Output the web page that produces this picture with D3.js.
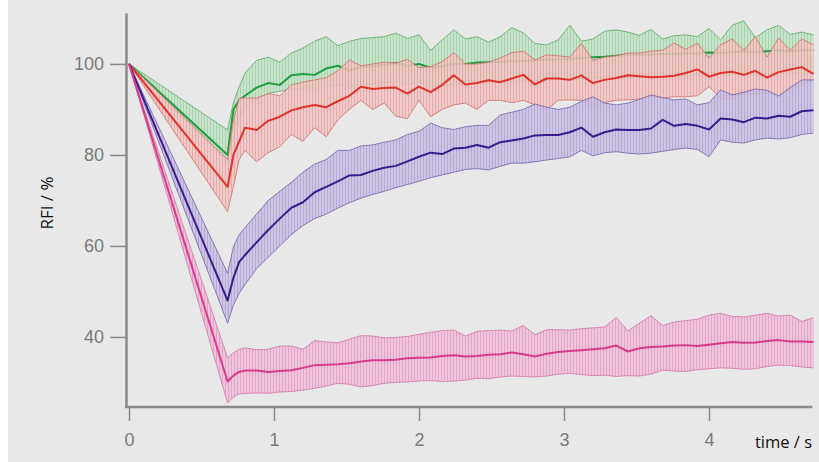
<!DOCTYPE html>
<html>
<head>
<meta charset="utf-8">
<script src="https://cdn.jsdelivr.net/npm/d3@7"></script>
<style>
  html, body { margin: 0; padding: 0; background: #ffffff; }
  svg { display: block; }
</style>
</head>
<body>
<div id="chart"></div>
<script>
// time axis (s)
const times = [0, 0.68, 0.72, 0.76, 0.80, 0.88, 0.96, 1.04, 1.12,
  1.20, 1.28, 1.36, 1.44, 1.52, 1.60, 1.68, 1.76, 1.84, 1.92,
  2.00, 2.08, 2.16, 2.24, 2.32, 2.40, 2.48, 2.56, 2.64, 2.72,
  2.80, 2.88, 2.96, 3.04, 3.12, 3.20, 3.28, 3.36, 3.44, 3.52,
  3.60, 3.68, 3.76, 3.84, 3.92, 4.00, 4.08, 4.16, 4.24, 4.32,
  4.40, 4.48, 4.56, 4.64, 4.72];

// RFI (%) - mean, upper and lower edge of the error band
const greenMean = [100, 80, 90, 92, 93, 94.8, 95.8, 95.4, 97.5,
  97.8, 97.6, 99, 99.6, 98.5, 99.4, 99.5, 99.8, 100.2, 99.6,
  100, 99.2, 99.5, 100, 100, 100.3, 100.4, 100.5, 100.6, 100.6,
  100.8, 101, 101, 101.1, 101.3, 101.5, 101.6, 101.8, 102, 102,
  102.1, 102.2, 102.2, 102.3, 102.3, 102.5, 102.4, 102.6, 102.8, 102.6,
  102.8, 103, 102.8, 103, 103];
const greenHi = [100, 85.5, 91.5, 95, 98, 100.8, 101.5, 100.4, 102.4,
  103.5, 105, 106, 104, 105, 105.6, 105.8, 106, 106.8, 105.6,
  106.4, 103, 105.3, 107.5, 105.5, 106, 104.8, 106, 108, 106.8,
  104.5, 104.2, 105.3, 108.5, 105, 105.5, 107.2, 107.5, 107, 106.3,
  107.6, 105.5, 106.2, 106.4, 106, 107.8, 105.3, 108.5, 109.5, 105.8,
  107.5, 108.5, 106.5, 107, 106.4];
const greenLo = [100, 78.5, 84, 88, 90.5, 92, 93.5, 94, 94.5,
  94.5, 94, 95, 95.5, 95, 95.5, 95.5, 96, 96, 95.5,
  96, 95, 95, 95.5, 95.5, 96, 96, 96, 96, 96.2,
  96.4, 96.5, 96.6, 96.6, 96.8, 97, 96.8, 97, 97, 97.2,
  97.3, 97.2, 97.4, 97.4, 97.5, 97.6, 97.5, 97.6, 97.8, 97.6,
  97.8, 98, 97.8, 98, 98];

const redMean = [100, 73, 80, 83, 86, 85.5, 87.5, 88.4, 89.8,
  90.5, 91, 90.5, 91.8, 93, 95, 94.5, 94.7, 94.8, 93.5,
  95, 93.8, 95.4, 97.5, 95.5, 95.8, 96.4, 96, 96.8, 97.6,
  95.5, 96.8, 96.8, 96.5, 97.5, 95.8, 96.5, 96.9, 97.5, 97.3,
  97.1, 97.2, 97.4, 98, 98.8, 97.2, 98, 98.3, 97.6, 98.5,
  97, 98.2, 98.8, 99.3, 97.8];
const redHi = [100, 79, 87.5, 92.5, 92.5, 92.5, 93.5, 93, 95.4,
  96, 96.5, 97, 98.5, 100.9, 99.6, 100, 100.4, 100.2, 101,
  99.2, 99.4, 100.5, 102.5, 100, 100, 100.4, 101.3, 102.5, 102.8,
  100.9, 102, 101.8, 101.5, 104.5, 100.8, 101.5, 101.8, 102.4, 102.4,
  102.8, 103, 104.6, 103.2, 104.6, 101.3, 104.2, 105.5, 103, 106,
  101.5, 105.7, 103, 105.5, 104.2];
const redLo = [100, 67.5, 73, 79, 81, 78.5, 80.5, 81.8, 84.5,
  83, 86, 84, 87.7, 90, 92, 90, 91.4, 88.5, 88,
  92, 88.4, 90, 91, 91.4, 90, 92, 92, 91.5, 92,
  91, 89.9, 92, 92.1, 92, 89.9, 91.5, 92, 92.1, 92.3,
  92.8, 92.5, 92.8, 92.8, 93, 95, 92.5, 92.2, 93.6, 93.4,
  93.6, 92.8, 94.3, 95.5, 96.5];

const purpleMean = [100, 48, 53, 56.5, 58, 60.8, 63.5, 66, 68.4,
  69.6, 71.8, 73, 74.2, 75.5, 75.6, 76.5, 77.2, 77.6, 78.6,
  79.6, 80.5, 80.2, 81.4, 81.6, 82.2, 81.6, 82.8, 83.2, 83.6,
  84.3, 84.4, 84.4, 85, 86, 84, 85, 85.6, 85.5, 85.5,
  85.8, 87.7, 86.4, 86.8, 86.4, 85.6, 88, 87.8, 87.2, 88.2,
  88, 88.6, 88.4, 89.6, 89.8];
const purpleHi = [100, 54, 59.8, 62.5, 64, 67, 70, 72, 74,
  76.2, 78, 79, 81, 81, 82, 82.2, 82.8, 83.3, 84.5,
  85.2, 87, 86, 85.6, 86.2, 86.5, 86.5, 88.8, 89.4, 90,
  91.2, 90.5, 90, 90.5, 91.8, 92.8, 91.4, 91, 91.4, 92.2,
  93.2, 92.6, 92.1, 92.3, 91, 91.5, 94.3, 93.2, 93.8, 94.5,
  94.2, 93, 94.8, 96.5, 96.5];
const purpleLo = [100, 43, 47, 49.6, 51.5, 55, 57.5, 60, 62.5,
  64.5, 66, 67, 68.3, 69.5, 70.5, 71.3, 72, 72.8, 73.5,
  74.2, 75, 75.6, 76.2, 76.8, 77, 76.7, 77.5, 78.2, 78.2,
  78.5, 78.9, 79.2, 79.6, 81, 79.8, 80.5, 80.7, 80.4, 80.2,
  80.4, 80.8, 81.2, 81.5, 81.2, 79.6, 83.3, 82.8, 82.6, 83.3,
  83.7, 83.5, 83.8, 84.5, 84.8];

const magentaMean = [100, 30.2, 31.5, 32.3, 32.6, 32.6, 32.3, 32.5, 32.7,
  33.2, 33.8, 33.9, 34, 34.2, 34.6, 34.9, 34.9, 35, 35.3,
  35.4, 35.5, 35.8, 36, 35.7, 35.8, 36.1, 36.2, 36.6, 36.2,
  35.7, 36.3, 36.7, 36.9, 37.1, 37.3, 37.5, 38.1, 36.8, 37.5,
  37.8, 37.9, 38.1, 38.2, 38, 38.3, 38.6, 38.9, 38.7, 38.8,
  39.1, 39.3, 39, 39, 38.9];
const magentaHi = [100, 35.4, 36.5, 37.3, 37.6, 37.2, 37.3, 38, 38,
  37.3, 39.2, 38.9, 38.7, 39.5, 40.3, 40.2, 39.8, 39.9, 40.1,
  40.6, 41, 41.4, 41.5, 40.2, 41.2, 41.4, 41.5, 41.3, 42.5,
  40.5, 41.6, 41.6, 41.5, 41.8, 42, 42.2, 44.3, 41.3, 43,
  44.7, 42.5, 43.3, 43.6, 43.9, 44.8, 45.2, 44.5, 44.4, 44.8,
  45.2, 44.6, 44.8, 43.4, 44.2];
const magentaLo = [100, 25.5, 26.8, 27.5, 27.6, 27.7, 27.6, 27.9, 28,
  28.3, 28.7, 29.2, 29.8, 29.6, 29, 29.3, 29.8, 30, 30.1,
  30.3, 30.4, 30.2, 30.3, 30.5, 30.9, 30.8, 31.2, 31.4, 31.3,
  31.2, 31.4, 31.8, 32, 31.7, 31.5, 31.6, 31.3, 31.5, 31.4,
  31.8, 32.7, 32.5, 32.4, 32.8, 33, 33.2, 33.1, 32.9, 33,
  33.5, 33.8, 33.7, 33.4, 33.2];

const xTicks = [0, 1, 2, 3, 4];
const yTicks = [40, 60, 80, 100];

const width = 819, height = 462;

const svg = d3.select("#chart").append("svg")
  .attr("width", width)
  .attr("height", height);

// grey panel
svg.append("rect")
  .attr("x", 8).attr("y", 0)
  .attr("width", width - 8).attr("height", height)
  .attr("fill", "#e8e8e8");

const x = d3.scaleLinear().domain([0, 4.72]).range([129, 813.4]);
const y = d3.scaleLinear().domain([24.6, 111.2]).range([407, 13]);

const series = [
  { id: "green", mean: greenMean, hi: greenHi, lo: greenLo, line: "#1f9e40", fill: "#c2e4c6", hatch: "#9fd0a6", edge: "#5fa86c" },
  { id: "red", mean: redMean, hi: redHi, lo: redLo, line: "#e2322c", fill: "#f1c6c4", hatch: "#e3a4a2", edge: "#cf6e6a" },
  { id: "purple", mean: purpleMean, hi: purpleHi, lo: purpleLo, line: "#3a1c8c", fill: "#c9c0e2", hatch: "#aea0d2", edge: "#7462a8" },
  { id: "magenta", mean: magentaMean, hi: magentaHi, lo: magentaLo, line: "#d93a8a", fill: "#f0c0da", hatch: "#e39cc2", edge: "#cf77a6" }
];

const defs = svg.append("defs");
series.forEach(s => {
  const p = defs.append("pattern")
    .attr("id", "hatch-" + s.id)
    .attr("patternUnits", "userSpaceOnUse")
    .attr("width", 3).attr("height", 10);
  p.append("rect").attr("width", 3).attr("height", 10)
    .attr("fill", s.fill);
  p.append("line")
    .attr("x1", 0.5).attr("x2", 0.5).attr("y1", 0).attr("y2", 10)
    .attr("stroke", s.hatch).attr("stroke-width", 1);
});

series.forEach(s => {
  const rows = times.map((t, i) => ({ t: t, m: s.mean[i], hi: s.hi[i], lo: s.lo[i] }));
  const g = svg.append("g").attr("class", "series-" + s.id);

  const area = d3.area()
    .x(d => x(d.t))
    .y0(d => y(d.lo))
    .y1(d => y(d.hi));

  g.append("path")
    .datum(rows)
    .attr("d", area)
    .attr("fill", "url(#hatch-" + s.id + ")")
    .attr("fill-opacity", 0.88);

  ["hi", "lo"].forEach(k => {
    g.append("path")
      .datum(rows)
      .attr("d", d3.line().x(d => x(d.t)).y(d => y(d[k])))
      .attr("fill", "none")
      .attr("stroke", s.edge)
      .attr("stroke-opacity", 0.8)
      .attr("stroke-width", 1);
  });

  g.append("path")
    .datum(rows)
    .attr("d", d3.line().x(d => x(d.t)).y(d => y(d.m)))
    .attr("fill", "none")
    .attr("stroke", s.line)
    .attr("stroke-width", 2)
    .attr("stroke-linejoin", "round");
});

// axes
const axisColor = "#8a8a8a";
const labelColor = "#7a7a7a";

const yAxis = svg.append("g")
  .attr("transform", `translate(${x(0) - 3},0)`)
  .call(d3.axisLeft(y).tickValues(yTicks).tickSize(16).tickSizeOuter(0).tickPadding(6).tickFormat(d3.format("d")));
yAxis.select(".domain").attr("stroke", axisColor).attr("stroke-width", 2.5);
yAxis.selectAll(".tick line").attr("stroke", axisColor).attr("stroke-width", 1.5);
yAxis.selectAll(".tick text")
  .attr("fill", labelColor)
  .style("font-family", "'Liberation Sans', Arial, sans-serif")
  .style("font-size", "18px");

const xAxis = svg.append("g")
  .attr("transform", `translate(0,${y(24.6)})`)
  .call(d3.axisBottom(x).tickValues(xTicks).tickSize(14).tickSizeOuter(0).tickPadding(12).tickFormat(d3.format("d")));
xAxis.select(".domain").remove();
xAxis.append("line")
  .attr("x1", x(0) - 4).attr("x2", x.range()[1] - 1)
  .attr("stroke", axisColor).attr("stroke-width", 2.5);
xAxis.selectAll(".tick line").attr("stroke", axisColor).attr("stroke-width", 1.5);
xAxis.selectAll(".tick text")
  .attr("fill", labelColor)
  .style("font-family", "'Liberation Sans', Arial, sans-serif")
  .style("font-size", "18px");

// axis titles
svg.append("text")
  .attr("transform", "translate(53,203) rotate(-90)")
  .attr("text-anchor", "middle")
  .style("font-family", "'Open Sans', sans-serif")
  .style("font-size", "17px")
  .attr("fill", "#111")
  .text("RFI / %");

svg.append("text")
  .attr("x", 812).attr("y", 448)
  .attr("text-anchor", "end")
  .style("font-family", "'Open Sans', sans-serif")
  .style("font-size", "16.5px")
  .attr("fill", "#111")
  .text("time / s");
</script>
</body>
</html>
